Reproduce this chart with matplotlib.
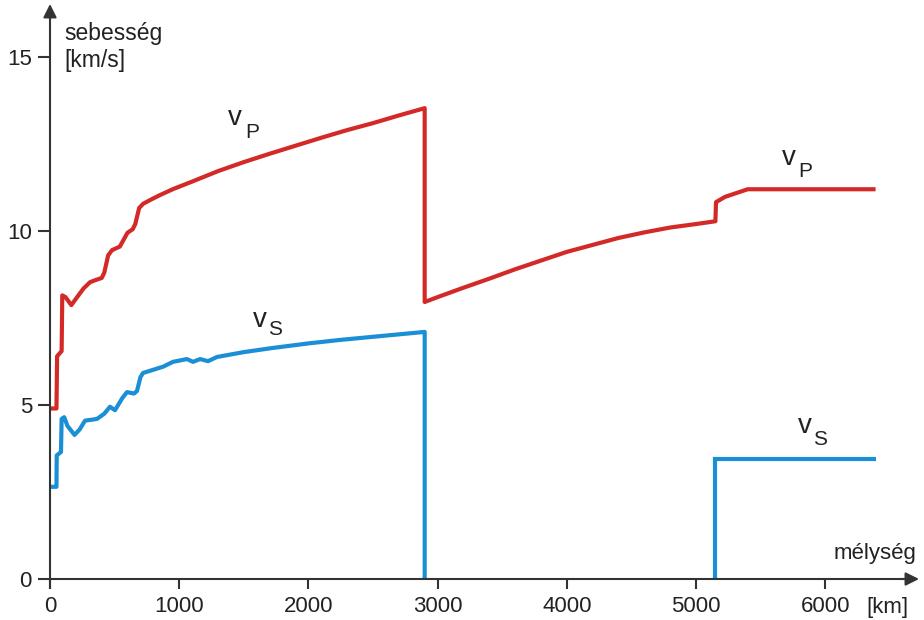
import matplotlib
matplotlib.use("Agg")
import matplotlib.pyplot as plt

# ---- data (depth in km, velocity in km/s) ----
vp_depth = [0, 50, 55, 90, 95, 120, 165, 210, 260, 310, 360, 400, 420, 450, 480,
            540, 570, 600, 640, 660, 690, 720, 780, 850, 950, 1100, 1300, 1500,
            1700, 1900, 2100, 2300, 2500, 2700, 2900, 2900, 3000, 3200, 3400,
            3600, 3800, 4000, 4200, 4400, 4600, 4800, 5000, 5150, 5155, 5224,
            5400, 6390]
vp_vel = [4.9, 4.9, 6.4, 6.55, 8.15, 8.1, 7.87, 8.1, 8.35, 8.53, 8.6, 8.65, 8.8,
          9.3, 9.45, 9.55, 9.75, 9.95, 10.05, 10.2, 10.66, 10.78, 10.9, 11.03,
          11.2, 11.42, 11.72, 11.98, 12.22, 12.45, 12.68, 12.9, 13.1, 13.32,
          13.53, 7.96, 8.1, 8.37, 8.63, 8.9, 9.15, 9.4, 9.6, 9.8, 9.96, 10.1,
          10.2, 10.28, 10.83, 10.98, 11.2, 11.2]

vs_depth_a = [0, 50, 52, 85, 90, 110, 135, 190, 230, 271, 364, 420, 464, 503,
              560, 596, 650, 673, 700, 720, 875, 952, 1060, 1107, 1161, 1223,
              1293, 1500, 1726, 2000, 2245, 2500, 2700, 2900, 2900]
vs_vel_a = [2.65, 2.65, 3.55, 3.65, 4.6, 4.65, 4.4, 4.14, 4.3, 4.55, 4.6, 4.75,
            4.95, 4.85, 5.2, 5.37, 5.33, 5.4, 5.8, 5.92, 6.1, 6.24, 6.32, 6.24,
            6.32, 6.26, 6.38, 6.52, 6.64, 6.77, 6.87, 6.96, 7.03, 7.1, 0.0]
vs_depth_b = [5150, 5150, 6390]
vs_vel_b = [0.0, 3.45, 3.45]

xticks = [0, 1000, 2000, 3000, 4000, 5000, 6000]
yticks = [0, 5, 10, 15]

RED = "#d42a27"
BLUE = "#1b8fd6"
AX = "#333333"
TXT = "#222222"

plt.rcParams["font.family"] = ["Liberation Sans", "DejaVu Sans"]

W, H = 924, 620
fig = plt.figure(figsize=(W / 100, H / 100), dpi=100)
ax = fig.add_axes([0, 0, 1, 1])
ax.set_facecolor("none")

# pixel mapping: x_px = 50 + km*0.1292 ; y_px = 579 - v*34.8
kx, ky = 0.1292, 34.8
ax.set_xlim(-50 / kx, (W - 50) / kx)
ax.set_ylim(-(H - 579) / ky, 579 / ky)

ax.plot(vp_depth, vp_vel, color=RED, lw=3.0, solid_joinstyle="round",
        solid_capstyle="butt", zorder=3)
ax.plot(vs_depth_a, vs_vel_a, color=BLUE, lw=3.0, solid_joinstyle="round",
        solid_capstyle="butt", zorder=3)
ax.plot(vs_depth_b, vs_vel_b, color=BLUE, lw=3.0, solid_joinstyle="miter",
        solid_capstyle="butt", zorder=3)

# axes spines through origin
for s in ["top", "right"]:
    ax.spines[s].set_visible(False)
ax.spines["left"].set_position(("data", 0))
ax.spines["bottom"].set_position(("data", 0))
ax.spines["left"].set_bounds(-9 / ky, (579 - 12) / ky)
ax.spines["bottom"].set_bounds(0, (910 - 50) / kx)
for s in ["left", "bottom"]:
    ax.spines[s].set_color(AX)
    ax.spines[s].set_linewidth(1.5)
    ax.spines[s].set_zorder(4)

# arrow heads
ax.annotate("", xy=(0, (579 - 4) / ky), xytext=(0, (579 - 20) / ky),
            arrowprops=dict(arrowstyle="-|>", color=AX, lw=1.5,
                            mutation_scale=20, shrinkA=0, shrinkB=0))
ax.annotate("", xy=((919 - 50) / kx, 0), xytext=((900 - 50) / kx, 0),
            arrowprops=dict(arrowstyle="-|>", color=AX, lw=1.5,
                            mutation_scale=20, shrinkA=0, shrinkB=0))

ax.set_xticks(xticks)
ax.set_yticks(yticks)
ax.set_xticklabels([str(t) for t in xticks])
ax.set_yticklabels([str(t) for t in yticks])
ax.tick_params(axis="x", direction="out", length=7, width=1.5, color=AX,
               labelsize=16, labelcolor=TXT, pad=5)
ax.tick_params(axis="y", direction="out", length=9, width=1.5, color=AX,
               labelsize=16, labelcolor=TXT, pad=4)


def ptext(x, y, s, size=16, **kw):
    fig.text(x / W, 1 - y / H, s, fontsize=size, color=TXT, va="baseline",
             ha="left", **kw)


ptext(64, 40, "sebesség", size=16.5)
ptext(64, 67, "[km/s]", size=16.5)
ptext(834, 559, "mélység")
ptext(866, 613, "[km]")

# curve labels: v with subscript
for (vx, vy, sx, sy, sub) in [(228, 125, 245, 138, "P"),
                              (253, 327, 268, 335, "S"),
                              (782, 165, 798, 177, "P"),
                              (798, 433, 813, 445, "S")]:
    ptext(vx, vy, "v", size=20)
    ptext(sx, sy, sub, size=15)

fig.savefig("out.png", dpi=100)
